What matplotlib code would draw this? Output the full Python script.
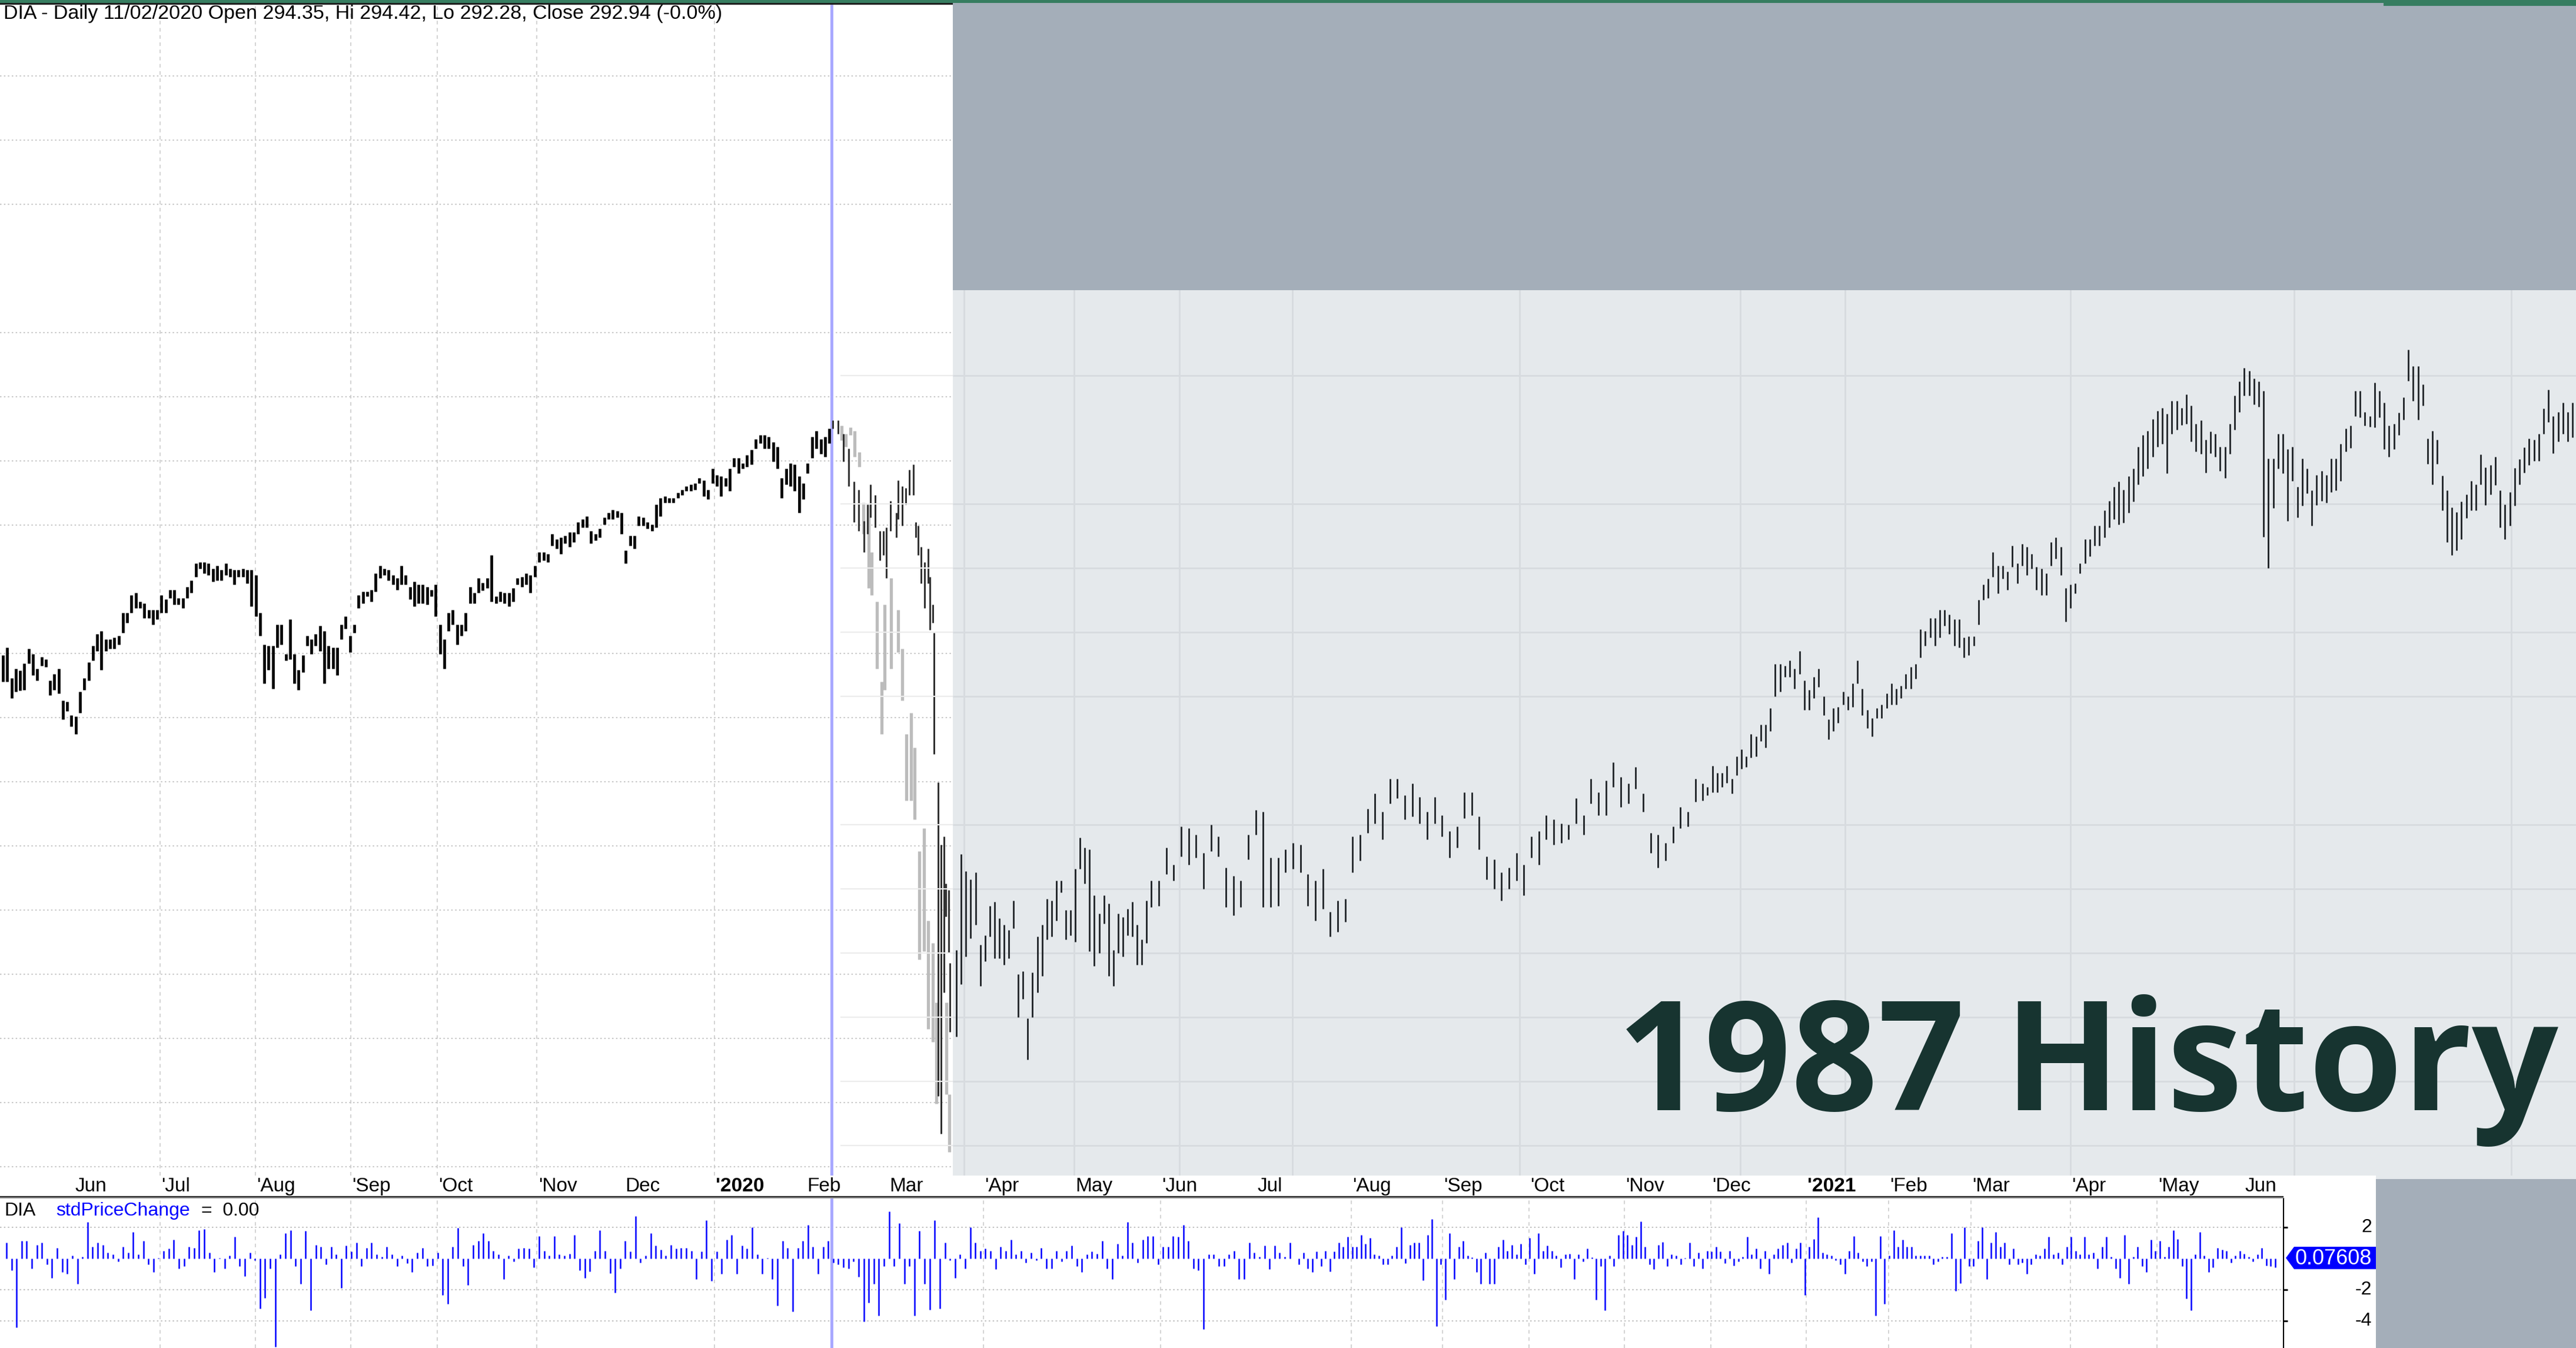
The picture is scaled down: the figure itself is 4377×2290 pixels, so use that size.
import numpy as np
import matplotlib.pyplot as plt
from matplotlib.patches import Rectangle, Polygon
from matplotlib.transforms import blended_transform_factory

plt.rcParams['font.family'] = ['Liberation Sans', 'DejaVu Sans']

W, H = 4377, 2290

# --- DIA daily bars, Jun 2019 - Feb 2020 (high / low), x = trading day from 3 Jun 2019
span_2019 = (-16.3, 93.5)
hi_2019 = [259.7, 260.9, 256.1, 257.6, 257.3, 258.4, 260.7, 259.9, 257.6, 259.4,
           259.1, 255.8, 256.8, 257.6, 252.7, 252.5, 250.4, 250.2, 254.0, 256.1,
           258.6, 261.2, 263.0, 263.5, 262.2, 262.2, 262.5, 262.7, 266.3, 266.3,
           269.1, 269.4, 268.1, 267.8, 266.8, 266.8, 266.8, 269.1, 268.4, 269.9,
           269.9, 268.6, 268.6, 270.4, 271.4, 274.0, 274.2, 274.2, 274.0, 273.2,
           273.7, 273.0, 274.0, 273.2, 273.0, 273.0, 273.2, 273.0, 273.0, 272.2,
           266.3, 261.4, 261.2, 261.2, 264.5, 264.5, 259.9, 265.3, 259.9, 257.4,
           259.7, 262.7, 262.2, 263.0, 264.3, 263.5, 261.2, 260.9, 260.9, 264.5,
           265.8, 262.7, 264.5, 269.1, 269.6, 269.6, 269.9, 272.5, 273.7, 273.2,
           273.0, 272.2, 271.7, 273.7, 272.2, 270.4, 271.2, 270.7, 270.7, 270.4,
           269.9, 270.7, 264.5, 262.2, 266.3, 266.8, 264.5, 264.5, 266.3, 270.4,
           269.4, 271.7]
lo_2019 = [255.6, 255.6, 253.0, 254.0, 254.2, 254.3, 258.4, 256.6, 255.8, 258.1,
           257.9, 253.5, 254.3, 253.8, 249.7, 251.0, 248.6, 247.4, 250.7, 254.3,
           255.8, 258.9, 260.4, 257.4, 260.4, 260.7, 260.7, 261.4, 263.2, 264.8,
           266.3, 267.1, 267.1, 265.5, 265.5, 264.5, 265.3, 266.3, 266.3, 268.6,
           267.6, 267.6, 267.1, 268.6, 269.4, 271.9, 273.2, 272.5, 272.2, 271.2,
           271.4, 271.4, 272.2, 271.9, 270.7, 271.9, 271.9, 270.9, 267.3, 265.8,
           262.7, 255.3, 257.4, 254.5, 260.9, 261.4, 258.9, 259.1, 255.3, 254.3,
           257.1, 261.2, 259.9, 261.2, 260.4, 255.3, 257.6, 257.6, 256.6, 262.2,
           263.8, 260.2, 263.2, 267.1, 267.8, 268.9, 268.1, 269.6, 271.7, 272.2,
           271.4, 270.7, 269.9, 270.7, 270.7, 268.4, 267.3, 267.8, 267.8, 267.6,
           268.9, 265.8, 259.9, 257.6, 263.5, 264.5, 261.4, 262.7, 263.5, 267.8,
           267.8, 269.4]

span_late19 = (94.5, 174.5)
hi_late19 = [271.0, 271.7, 275.3, 268.9, 269.6, 269.4, 269.4, 270.2, 271.7, 271.9,
             272.5, 272.2, 273.7, 275.8, 275.8, 275.5, 278.6, 277.8, 278.1, 278.3,
             278.9, 278.9, 280.4, 280.9, 281.4, 279.1, 278.6, 279.4, 281.2, 281.9,
             282.4, 282.2, 281.9, 276.0, 278.3, 278.3, 281.4, 281.2, 280.4, 280.1,
             283.2, 284.2, 284.5, 284.2, 284.2, 285.0, 285.5, 286.0, 286.3, 286.5,
             287.3, 287.0, 285.5, 288.8, 287.8, 287.6, 287.3, 288.8, 290.4, 290.4,
             289.6, 290.9, 291.7, 293.4, 294.0, 294.0, 293.7, 292.9, 292.2, 287.3,
             288.8, 289.6, 289.4, 287.6, 286.5, 289.6, 293.7, 294.7, 293.4, 293.7, 295.0]
lo_late19 = [269.8, 270.2, 268.1, 267.8, 268.1, 267.8, 267.3, 268.1, 270.7, 270.4,
             270.7, 269.4, 271.9, 274.2, 274.5, 274.2, 276.8, 276.3, 275.5, 277.1,
             276.6, 277.3, 278.6, 279.6, 279.6, 277.1, 277.6, 278.1, 280.1, 280.9,
             280.9, 281.2, 278.6, 274.0, 276.8, 276.3, 279.9, 279.9, 279.4, 279.1,
             279.6, 281.4, 283.5, 283.5, 283.5, 284.2, 284.7, 285.3, 285.3, 285.5,
             286.5, 284.5, 284.0, 286.5, 286.0, 284.5, 286.0, 285.3, 289.1, 288.1,
             288.8, 289.1, 289.4, 291.9, 292.7, 291.9, 291.9, 289.9, 288.8, 284.2,
             286.3, 286.0, 285.3, 281.9, 284.0, 288.1, 290.4, 291.9, 291.1, 290.6, 292.7]

# Feb - Mar 2020 sell-off
crash_day = [175.3, 176.5, 177.7, 178.9, 180.2, 181.3, 182.5, 183.3, 184.0, 185.1,
             186.1, 186.9, 187.7, 188.6, 190.0, 190.4, 191.3, 192.1, 192.9, 193.9,
             194.5, 195.0, 195.7, 196.5, 197.3, 197.7, 198.4, 198.6, 199.6, 200.3,
             200.9, 201.3, 202.0, 202.3]
crash_hi = [296.3, 296.3, 294.2, 291.9, 286.8, 285.5, 280.6, 283.2, 286.3, 284.7,
            279.1, 279.1, 279.6, 283.7, 281.9, 287.0, 286.0, 285.8, 288.6, 289.4,
            280.4, 279.9, 276.6, 274.2, 276.3, 271.9, 267.6, 263.2, 239.9, 230.2,
            231.5, 224.1, 223.1, 211.8]
crash_lo = [295.0, 294.2, 289.9, 286.0, 280.4, 279.1, 275.8, 278.6, 281.2, 279.6,
            274.5, 275.3, 271.7, 279.1, 278.1, 280.9, 279.9, 283.2, 284.7, 284.7,
            278.1, 275.3, 270.9, 267.1, 270.9, 263.7, 264.8, 244.3, 191.0, 185.2,
            207.2, 219.0, 213.3, 201.0]

# 1987 path laid over the 2020 drop
ghost_day = [177.3, 178.3, 179.4, 180.3, 181.4, 182.4, 183.5, 184.3, 185.5, 186.5,
             187.2, 188.7, 190.3, 191.3, 192.2, 193.3, 194.2, 195.3, 196.4, 197.3,
             198.4, 199.2, 201.5, 202.2]
ghost_hi = [295.5, 294.2, 295.2, 294.7, 291.4, 283.5, 283.2, 275.8, 268.1, 255.6,
            267.6, 271.7, 266.8, 260.7, 247.4, 250.7, 245.3, 229.2, 232.8, 218.4,
            214.9, 205.6, 205.6, 191.3]
ghost_lo = [293.2, 292.2, 294.0, 290.6, 289.1, 278.6, 270.2, 269.1, 257.6, 247.4,
            254.3, 257.6, 260.2, 252.7, 237.1, 237.1, 234.1, 212.3, 213.6, 201.5,
            199.5, 189.8, 191.3, 182.3]

# --- recovery panel (pasted chart, own scale)
span_rec_a = (203.8, 247.7)
rec_hi_a = [210.5, 225.4, 222.8, 221.5, 222.6, 211.3, 212.8, 217.4, 218.0, 215.4,
            214.4, 213.6, 218.2, 206.7, 207.2, 199.8, 207.0, 212.6, 214.4, 218.5,
            218.2, 221.3, 221.3, 216.7, 216.7, 223.1, 228.0, 226.4, 226.2, 219.0,
            216.2, 219.0, 217.7, 210.5, 216.2, 215.6, 216.9, 218.0, 214.4, 212.1, 218.2]
rec_lo_a = [197.0, 205.2, 209.5, 212.3, 214.4, 204.9, 208.7, 212.6, 209.2, 209.2,
            208.2, 209.2, 213.9, 200.0, 202.9, 193.4, 200.0, 203.9, 206.4, 212.1,
            212.6, 215.1, 219.5, 212.1, 212.8, 211.8, 223.1, 220.8, 210.3, 208.0,
            210.0, 214.6, 206.4, 204.9, 210.0, 209.5, 212.8, 212.6, 208.2, 208.2, 211.6]

span_rec_b = (248.8, 376.1)
rec_hi_b = [221.3, 221.3, 226.4, 223.8, 229.7, 229.5, 228.5, 225.6, 230.0, 228.2,
            223.3, 222.0, 221.3, 228.5, 232.3, 232.0, 224.9, 224.9, 226.2, 227.2,
            226.9, 222.3, 221.3, 223.1, 216.4, 218.2, 218.5, 228.2, 228.5, 232.5,
            234.9, 232.0, 237.2, 237.2, 234.6, 236.4, 234.3, 232.0, 234.3, 231.5,
            229.0, 229.7, 235.1, 235.1, 231.3, 225.1, 224.6, 222.6, 223.3, 225.6,
            223.8, 228.2, 229.0, 231.5, 230.8, 230.2, 230.0, 234.1, 231.5, 237.2,
            235.1, 236.9, 239.7, 237.4, 236.4, 239.0, 234.9, 228.7, 228.5, 227.2,
            229.7, 232.8, 232.0, 237.2, 236.4]
rec_lo_b = [217.2, 217.4, 222.3, 221.3, 225.1, 223.8, 224.9, 220.0, 225.9, 225.1,
            217.2, 215.9, 217.2, 224.6, 228.5, 217.2, 217.2, 217.4, 222.6, 223.1,
            222.6, 217.4, 215.1, 216.9, 212.6, 213.3, 214.9, 222.6, 224.4, 228.7,
            230.2, 227.7, 233.3, 234.1, 230.8, 231.3, 230.2, 227.7, 230.2, 228.2,
            224.9, 226.4, 231.0, 231.5, 226.2, 221.5, 220.0, 218.2, 220.0, 221.3,
            219.0, 224.9, 223.8, 227.7, 226.9, 227.2, 227.7, 230.2, 228.5, 233.3,
            231.5, 231.5, 235.9, 232.8, 233.3, 235.6, 232.0, 225.6, 223.3, 224.4,
            227.2, 229.5, 229.7, 233.6, 233.8]

span_rec_c = (377.2, 482.2)
rec_hi_c = [235.9, 239.2, 238.1, 238.1, 239.2, 237.2, 240.7, 241.8, 240.7, 244.1,
            243.8, 245.6, 245.6, 248.2, 255.1, 255.1, 254.8, 255.6, 254.3, 257.1,
            252.5, 251.0, 253.0, 254.3, 250.0, 246.4, 248.2, 248.4, 250.7, 250.0,
            252.0, 255.6, 251.2, 247.9, 246.6, 248.2, 248.7, 250.5, 252.0, 251.2,
            251.7, 253.5, 254.6, 255.1, 260.5, 260.2, 262.2, 262.2, 263.5, 263.5,
            262.8, 262.0, 262.0, 259.2, 259.4, 259.4, 265.1, 267.4, 268.4, 272.5,
            270.4, 270.4, 269.5, 273.5, 270.7, 273.8, 273.3, 272.2, 270.2, 269.9,
            269.2, 274.0, 274.8, 273.3, 266.9, 267.4, 267.6, 270.7, 274.5, 274.5,
            276.6, 276.6, 279.0, 280.5, 282.7, 283.5, 282.2, 284.3, 285.5, 288.9,
            290.7, 291.4, 293.2, 294.5, 295.0]
rec_lo_c = [234.6, 235.1, 235.1, 235.9, 236.5, 234.9, 237.7, 238.7, 239.0, 240.5,
            240.7, 243.0, 242.0, 244.6, 250.0, 250.7, 253.0, 253.0, 251.2, 253.5,
            247.9, 247.9, 249.7, 251.5, 247.1, 243.3, 244.6, 245.9, 248.7, 247.9,
            248.4, 252.0, 247.1, 245.1, 243.8, 246.6, 246.6, 248.2, 248.7, 248.7,
            249.7, 251.2, 251.2, 252.8, 256.1, 257.9, 259.2, 257.9, 259.2, 261.0,
            259.7, 257.9, 257.6, 256.1, 256.4, 257.9, 261.2, 265.1, 265.3, 268.6,
            266.1, 268.4, 266.6, 270.2, 267.6, 270.4, 268.9, 269.9, 266.6, 265.8,
            265.8, 270.4, 271.5, 268.9, 261.7, 263.8, 266.1, 269.2, 270.7, 271.8,
            273.5, 273.5, 274.8, 276.3, 277.6, 276.8, 277.1, 278.6, 280.4, 283.0,
            284.3, 285.5, 287.3, 288.9, 289.4]

span_rec_d = (483.3, 576.9)
rec_hi_d = [294.0, 296.1, 296.1, 295.0, 297.1, 295.3, 292.5, 293.0, 290.0, 291.3,
            290.9, 288.9, 288.9, 292.5, 296.9, 299.1, 301.2, 300.7, 299.5, 299.1,
            297.6, 287.1, 287.1, 290.9, 290.9, 288.5, 288.9, 282.7, 287.1, 285.5,
            282.1, 284.5, 285.1, 284.5, 287.1, 287.1, 289.4, 291.7, 292.2, 297.6,
            297.6, 294.3, 293.7, 298.9, 297.6, 295.8, 292.2, 292.5, 294.2, 296.6,
            304.0, 301.5, 301.5, 298.6, 290.2, 291.4, 290.0, 284.4, 282.1, 279.5,
            278.7, 280.4, 281.5, 283.6, 283.0, 287.7, 285.7, 286.1, 287.3, 282.1,
            279.9, 281.8, 285.6, 287.0, 288.8, 290.2, 290.0, 290.9, 294.9, 297.8,
            293.7, 294.3, 295.8, 294.3, 295.8]
rec_lo_d = [284.8, 290.9, 291.6, 292.3, 292.5, 289.7, 288.2, 287.8, 284.9, 287.9,
            287.3, 285.1, 284.0, 287.8, 291.6, 294.3, 296.9, 296.9, 295.5, 295.1,
            274.9, 270.0, 279.4, 285.5, 284.8, 277.3, 283.6, 277.9, 279.7, 281.7,
            276.6, 279.8, 280.5, 280.2, 281.8, 282.1, 283.6, 288.2, 288.7, 293.7,
            293.5, 292.2, 292.0, 291.9, 293.5, 288.5, 287.3, 288.5, 290.7, 293.1,
            299.2, 296.1, 293.1, 295.3, 286.2, 283.0, 286.2, 279.0, 274.0, 272.0,
            272.8, 274.5, 277.8, 279.0, 279.0, 283.0, 279.8, 281.5, 282.9, 276.3,
            274.5, 276.6, 279.7, 283.0, 284.9, 286.1, 286.7, 286.7, 290.9, 292.8,
            287.9, 289.7, 290.9, 289.7, 290.4]

# --- stdPriceChange indicator
span_std_a = (-15.5, 280.8)
std_a = [1.0, -0.75, -4.4, 1.13, 1.13, -0.63, 0.88, 1.0, -0.38, -1.26,
         0.69, -0.88, -1.0, 0.19, -1.64, 0.13, 2.33, 0.75, 1.0, 0.88,
         0.38, 0.25, -0.19, 0.75, 0.38, 1.7, 0.25, 1.13, -0.38, -0.88,
         0.05, 0.5, 0.63, 1.19, -0.63, -0.5, 0.75, 0.69, 1.82, 1.89,
         0.38, -0.88, 0.05, -0.63, 0.19, 1.38, -0.5, -1.13, 0.38, -0.13,
         -3.21, -2.52, -0.63, -5.66, 0.25, 1.64, 1.82, -0.5, -1.64, 1.76,
         -3.33, 0.88, 0.75, -0.38, 0.75, 0.25, -1.89, 0.82, 0.44, 1.0,
         -0.5, 0.69, 1.0, 0.25, 0.13, 0.75, 0.25, -0.5, 0.19, -0.31,
         -0.88, 0.38, 0.69, -0.5, -0.44, 0.38, -2.33, -2.89, 0.75, 1.95,
         -0.5, -1.7, 0.88, 1.13, 1.64, 1.13, 0.5, 0.25, -1.32, 0.19,
         -0.19, 0.63, 0.69, 0.63, -0.57, 1.45, 0.5, 0.19, 1.45, 0.25,
         0.19, 0.31, 1.51, -0.75, -1.26, -0.82, 0.5, 1.82, 0.5, -0.94,
         -2.2, -0.63, 1.13, 0.44, 2.7, -0.25, 0.19, 1.64, 0.82, 0.57,
         0.19, 0.88, 0.63, 0.69, 0.69, 0.5, -1.32, 0.44, 2.45, -1.45,
         0.44, -1.0, 1.19, 1.51, -1.0, 0.82, 0.63, 2.01, 0.25, -1.0,
         0.05, -1.32, -3.02, 1.13, 0.69, -3.4, 0.69, 1.13, 2.14, 0.75,
         -1.0, 0.75, 1.13, -0.25, -0.38, -0.57, -0.63, -0.19, -1.19, -4.03,
         -2.83, -1.64, -3.65, -0.5, 3.02, -0.5, 2.26, -1.64, -0.5, -3.65,
         1.76, -1.64, -3.27, 2.45, -3.21, 1.0, -0.1, -1.26, 0.25, -0.63,
         2.01, 1.0, 0.5, 0.63, 0.5, -0.69, 0.75, 0.5, 1.19, 0.25,
         0.5, -0.25, 0.38, -0.13, 0.69, -0.63, -0.63, 0.5, -0.19, 0.5,
         0.82, -0.5, -0.88, 0.25, 0.44, 0.31, 1.13, -0.63, -1.32, 0.94,
         0.19, 2.33, 1.0, -0.25, 1.19, 1.45, 1.45, -0.38, 0.75, 0.75,
         1.45, 1.38, 2.14, 1.13, -0.63, -0.75, -4.53, 0.25, 0.25, -0.5,
         -0.5, 0.25, 0.5, -1.32, -1.32, 1.0, 0.38, 0.13, 0.82, -0.69,
         0.82, 0.38, 0.13, 1.0]
span_std_b = (282.9, 508.3)
std_b = [-0.38, 0.38, -0.63, -0.88, 0.44, -0.5, 0.5, -0.82, 0.44, 1.0,
         0.75, 1.38, 0.75, 0.75, 1.51, 0.94, 1.32, 0.25, 0.19, -0.38,
         -0.38, 0.19, 0.75, 2.01, -0.31, 0.88, 1.0, 1.0, -1.38, 1.51,
         2.52, -4.34, -0.38, -2.64, 1.64, -1.32, 0.75, 1.13, 0.19, 0.06,
         -0.88, -1.64, 0.38, -1.64, -1.64, 0.75, 1.19, 0.5, 0.88, 0.25,
         0.94, -0.38, 1.32, -1.0, 1.64, 0.5, 0.82, 0.5, 0.19, -0.57,
         0.25, 0.31, -1.32, 0.25, -0.19, 0.63, 0.06, -2.64, -0.5, -3.33,
         0.19, -0.5, 1.51, 1.76, 1.51, 0.88, 1.38, 2.39, 0.75, -0.38,
         -0.69, 0.88, 1.07, -0.5, 0.25, 0.19, -0.38, 0.05, 1.0, -0.5,
         0.38, -0.63, 0.5, 0.44, 0.75, 0.44, -0.31, 0.5, -0.44, -0.19,
         0.13, 1.38, 0.25, 0.63, -0.63, 0.5, -1.0, 0.25, 0.63, 0.88,
         1.0, -0.25, 0.63, 1.0, -2.33, 0.75, 1.26, 2.64, 0.38, 0.25,
         0.19, -0.13, -0.38, -1.0, 0.5, 1.45, 0.38, -0.19, -0.5, -0.19,
         -3.65, 1.45, -2.89, 0.19, 1.82, 0.75, 1.19, 0.75, 0.75, 0.19,
         0.19, 0.19, 0.19, -0.38, -0.19, 0.13, 0.13, 1.64, -2.07, -1.57,
         2.01, -0.5, -0.5, 1.13, 2.01, -1.32, 1.0, 1.7, 0.75, 1.0,
         -0.38, 0.63, -0.38, -0.25, -1.0, -0.38, 0.25, 0.19, 0.63, 1.38,
         0.25, 0.38, -0.38, 0.75, 1.38, 0.5, 0.25, 1.38, 0.25, 0.38,
         -0.63, 0.75, 1.38, 0.13, -0.63, -1.26, 1.51, -1.64, 0.13, 0.75,
         -0.5, -0.88, 1.19, 0.5, 1.13, 0.13, 0.75, 1.82, 1.26, -0.5,
         -2.58, -3.33, 0.25, 1.7, 0.19, -0.88, -0.57, 0.69, 0.57, 0.5,
         -0.25, 0.19, 0.5, 0.31, 0.13, -0.19, 0.25, 0.69, -0.44, -0.5,
         -0.57]

month_day = [0, 20, 42, 64, 84, 107, 127, 148, 169, 188, 210, 231, 251,
             273, 295, 316, 336, 358, 378, 400, 419, 438, 461, 481, 501]
month_lbl = ['Jun', "'Jul", "'Aug", "'Sep", "'Oct", "'Nov", 'Dec', "'2020", 'Feb',
             'Mar', "'Apr", 'May', "'Jun", 'Jul', "'Aug", "'Sep", "'Oct", "'Nov",
             "'Dec", "'2021", "'Feb", "'Mar", "'Apr", "'May", 'Jun']
price_grid = [180, 190, 200, 210, 220, 230, 240, 250, 260, 280, 290, 300, 310, 330, 340, 350]
rec_grid = [180, 190, 200, 210, 220, 230, 250, 260, 270, 280, 300]
rec_grid_day = [205.6, 231.0, 255.3, 281.3, 333.8, 384.8, 409.0, 461.0, 512.6, 562.8]
std_ticks = [2, -2, -4]
cursor_day = 175
title = 'DIA - Daily 11/02/2020 Open 294.35, Hi 294.42, Lo 292.28, Close 292.94 (-0.0%)'


def box(x0, y0, x1, y1):
    return [x0 / W, 1 - y1 / H, (x1 - x0) / W, (y1 - y0) / H]


def bars(ax, days, hi, lo, color, lw):
    ax.vlines(days, lo, hi, colors=color, linewidth=lw, zorder=3)


fig = plt.figure(figsize=(W / 100, H / 100), dpi=100)
grid_days = [d for d, l in zip(month_day, month_lbl) if l.startswith("'")]

# main price pane
ax = fig.add_axes(box(0, 7.5, 3880, 1997), zorder=1)
ax.set_xlim(-16.98, 510.2)
ax.set_ylim(178.65, 361.1)
ax.axis('off')
for p in price_grid:
    ax.axhline(p, color='#bdbdbd', lw=1.2, ls=(0, (1.5, 2.5)), zorder=1)
for d in grid_days:
    ax.axvline(d, color='#c8c8c8', lw=1.1, ls=(0, (4, 4)), zorder=1)
ax.axvline(cursor_day, color='#a9a9ff', lw=3.6, zorder=2)
bars(ax, np.linspace(*span_2019, len(hi_2019)), hi_2019, lo_2019, 'black', 3.4)
bars(ax, np.linspace(*span_late19, len(hi_late19)), hi_late19, lo_late19, 'black', 3.4)
bars(ax, ghost_day, ghost_hi, ghost_lo, '#bcbcbc', 3.8)
bars(ax, crash_day, crash_hi, crash_lo, '#2e2e2e', 2.1)

# pasted recovery chart
x_edge = 203.0
axr = fig.add_axes(box(1428, 493, 4377, 1997), zorder=2)
axr.set_xlim(177.0, 577.7)
axr.set_ylim(175.35, 313.3)
axr.axis('off')
axr.axvspan(x_edge, 577.7, color='#e5e9ec', lw=0, zorder=0)
axr.hlines(rec_grid, 177.0, x_edge, color='#ececec', lw=1.6, zorder=1)
axr.hlines(rec_grid, x_edge, 577.7, color='#d7dbdf', lw=2.0, zorder=1)
for d in rec_grid_day:
    axr.axvline(d, color='#d7dbdf', lw=2.0, zorder=1)
for span, hi, lo in [(span_rec_a, rec_hi_a, rec_lo_a), (span_rec_b, rec_hi_b, rec_lo_b),
                     (span_rec_c, rec_hi_c, rec_lo_c), (span_rec_d, rec_hi_d, rec_lo_d)]:
    bars(axr, np.linspace(*span, len(hi)), hi, lo, '#25292d', 2.1)

# indicator pane
axl = fig.add_axes(box(0, 2036, 3880, 2290), zorder=1)
axl.set_xlim(-16.98, 510.2)
axl.set_ylim(-5.74, 3.85)
for s in ['top', 'left', 'bottom']:
    axl.spines[s].set_visible(False)
axl.spines['right'].set_linewidth(1.5)
axl.set_xticks([])
axl.yaxis.tick_right()
axl.set_yticks(std_ticks)
axl.tick_params(axis='y', length=5, width=2, labelright=False)
for v in std_ticks:
    axl.axhline(v, color='#b5b5b5', lw=1.2, ls=(0, (1.5, 2.5)), zorder=1)
for d in grid_days:
    axl.axvline(d, color='#c8c8c8', lw=1.1, ls=(0, (4, 4)), zorder=1)
axl.axvline(cursor_day, color='#a9a9ff', lw=3.6, zorder=2)
axl.vlines(np.linspace(*span_std_a, len(std_a)), 0, std_a, colors='#0000ff', lw=1.8, zorder=3)
axl.vlines(np.linspace(*span_std_b, len(std_b)), 0, std_b, colors='#0000ff', lw=1.8, zorder=3)

# overlay layer in pixel units
top = fig.add_axes([0, 0, 1, 1], zorder=3)
top.set_xlim(0, W)
top.set_ylim(H, 0)
top.axis('off')

top.add_patch(Rectangle((0, 2031.5), 3880, 2.5, color='#1c1c1c', lw=0))
top.add_patch(Rectangle((0, 2034), 3880, 2, color='#9a9a9a', lw=0))
top.add_patch(Rectangle((1619, 0), W - 1619, 493, color='#a4aeb9', lw=0))
top.add_patch(Rectangle((0, 0), W, 5, color='#367d60', lw=0))
top.add_patch(Rectangle((4050, 0), W - 4050, 10, color='#367d60', lw=0))
top.add_patch(Rectangle((0, 5), 1619, 2.5, color='#1e1e1e', lw=0))
top.add_patch(Rectangle((4037, 1997), W - 4037, 6, color='#e5e9ec', lw=0))

top.text(6, 8, title, va='top', ha='left', fontsize=24.5, color='black')

tr = blended_transform_factory(ax.transData, top.transData)
for d, l in zip(month_day, month_lbl):
    top.text(d + 0.3, 2024, l, transform=tr, va='baseline', ha='left', fontsize=24,
             fontweight='bold' if '20' in l else 'normal')

top.text(7, 2065, 'DIA', va='baseline', fontsize=23)
top.text(95, 2065, 'stdPriceChange', va='baseline', fontsize=23, color='#0000ff')
top.text(342, 2065, '=  0.00', va='baseline', fontsize=23)

trl = blended_transform_factory(top.transData, axl.transData)
for v in std_ticks:
    top.text(4030, v, str(v), transform=trl, ha='right', va='center', fontsize=23)

top.add_patch(Polygon([(3884, 2137), (3898, 2118), (4045, 2118), (4045, 2156), (3898, 2156)],
                      closed=True, color='#0000ff', lw=0))
top.text(3900, 2138, '0.07608', color='white', va='center', ha='left', fontsize=26)
top.add_patch(Rectangle((4037, 2003), W - 4037, H - 2003, color='#a4aeb9', lw=0, zorder=5))

top.text(2748, 1886, '1987 History', va='baseline', ha='left', fontsize=186,
         fontweight='bold', family='Open Sans', color='#173430', zorder=6)

fig.savefig('out.png', dpi=100)
